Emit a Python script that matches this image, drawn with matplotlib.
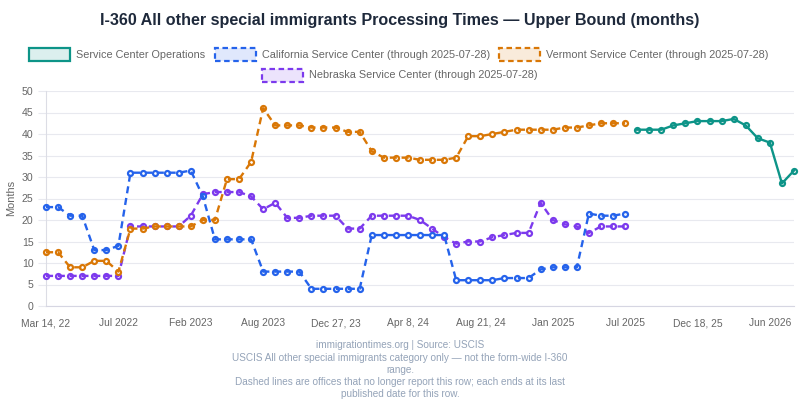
import matplotlib
matplotlib.use('Agg')
import matplotlib.pyplot as plt
from matplotlib.patches import Rectangle
import numpy as np

plt.rcParams['font.family'] = ['Liberation Sans', 'DejaVu Sans']

# ---------------- data ----------------
tick_labels = ["Mar 14, 22", "Jul 2022", "Feb 2023", "Aug 2023", "Dec 27, 23",
               "Apr 8, 24", "Aug 21, 24", "Jan 2025", "Jul 2025", "Dec 18, 25",
               "Jun 2026"]
tick_every = 6

california = [23, 23, 21, 21, 13, 13, 14, 31, 31, 31, 31, 31, 31.5, 25.5,
              15.5, 15.5, 15.5, 15.5, 8, 8, 8, 8, 4, 4, 4, 4, 4,
              16.5, 16.5, 16.5, 16.5, 16.5, 16.5, 16.5, 6, 6, 6, 6,
              6.5, 6.5, 6.5, 8.5, 9, 9, 9, 21.5, 21, 21, 21.5]
vermont = [12.5, 12.5, 9, 9, 10.5, 10.5, 8, 18, 18, 18.5, 18.5, 18.5, 18.5,
           20, 20, 29.5, 29.5, 33.5, 46, 42, 42, 42, 41.5, 41.5, 41.5,
           40.5, 40.5, 36, 34.5, 34.5, 34.5, 34, 34, 34, 34.5, 39.5, 39.5,
           40, 40.5, 41, 41, 41, 41, 41.5, 41.5, 42, 42.5, 42.5, 42.5]
nebraska = [7, 7, 7, 7, 7, 7, 7, 18.5, 18.5, 18.5, 18.5, 18.5, 21, 26,
            26.5, 26.5, 26.5, 25.5, 22.5, 24, 20.5, 20.5, 21, 21, 21, 18, 18,
            21, 21, 21, 21, 20, 18, 16, 14.5, 15, 15, 16, 16.5, 17, 17, 24,
            20, 19, 18.5, 17, 18.5, 18.5, 18.5]
service_center = [41, 41, 41, 42, 42.5, 43, 43, 43, 43.5, 42, 39, 38, 28.5, 31.5]

series_names = ["Service Center Operations",
                "California Service Center (through 2025-07-28)",
                "Vermont Service Center (through 2025-07-28)",
                "Nebraska Service Center (through 2025-07-28)"]

TEAL = '#0d9488'
BLUE = '#2563eb'
ORANGE = '#d97706'
PURPLE = '#7c3aed'

n_total = len(california) + len(service_center)

W, H = 800, 400
fig = plt.figure(figsize=(8, 4), dpi=100)
ax = fig.add_axes([46 / W, 1 - 306 / H, (794 - 46) / W, 215 / H])


def plot_series(vals, start, color, dashed, z):
    x = np.arange(start, start + len(vals))
    ax.plot(x, vals, linestyle='none', marker='o', ms=3.6, mew=1.6,
            mfc='white', mec=color, zorder=z, clip_on=False)
    ax.plot(x, vals, color=color, lw=1.7,
            linestyle=(0, (3, 2)) if dashed else '-',
            zorder=z + 0.05, clip_on=False)


plot_series(nebraska, 0, PURPLE, True, 3.0)
plot_series(vermont, 0, ORANGE, True, 3.2)
plot_series(california, 0, BLUE, True, 3.4)
plot_series(service_center, len(california), TEAL, False, 3.6)

ax.set_xlim(0, n_total - 1)
ax.set_ylim(0, 50)
ax.set_yticks(np.arange(0, 51, 5))
ax.set_xticks(np.arange(0, n_total, tick_every)[:len(tick_labels)])
ax.set_xticklabels(tick_labels)

grid_c = '#e8e9ef'
ax.grid(axis='y', color=grid_c, lw=0.8)
ax.grid(axis='x', visible=False)
ax.set_axisbelow(True)
for s in ['top', 'right']:
    ax.spines[s].set_visible(False)
ax.spines['left'].set_color('#dcdde5')
ax.spines['bottom'].set_color('#d6d6e2')
ax.spines['left'].set_linewidth(0.8)
ax.spines['bottom'].set_linewidth(0.8)
ax.tick_params(axis='y', length=6, color=grid_c, width=0.8,
               labelsize=7.6, labelcolor='#666666', pad=3)
ax.tick_params(axis='x', length=0, labelsize=7.4, labelcolor='#666666', pad=9)

# title
fig.text(0.5, 1 - 20 / H,
         "I-360 All other special immigrants Processing Times \u2014 Upper Bound (months)",
         ha='center', va='center', fontsize=11.6, fontweight='bold', color='#1e293b')

# y label
fig.text(11 / W, 1 - 198 / H, "Months", rotation=90, ha='center', va='center',
         fontsize=7.9, color='#666666')

# legend (manual, two centered rows)
legend_items = [
    (series_names[0], TEAL, False, 29, 54.5),
    (series_names[1], BLUE, True, 215, 54.5),
    (series_names[2], ORANGE, True, 499, 54.5),
    (series_names[3], PURPLE, True, 262, 75.5),
]
for name, color, dashed, x0, yc in legend_items:
    fill = Rectangle((x0 / W, 1 - (yc + 6) / H), 41 / W, 12 / H,
                     transform=fig.transFigure, facecolor=color, alpha=0.14,
                     edgecolor='none')
    fig.patches.append(fill)
    edge = Rectangle((x0 / W, 1 - (yc + 6) / H), 41 / W, 12 / H,
                     transform=fig.transFigure, facecolor='none',
                     edgecolor=color, lw=1.6,
                     linestyle=(0, (2.5, 1.6)) if dashed else '-')
    fig.patches.append(edge)
    fig.text((x0 + 47) / W, 1 - yc / H, name, ha='left', va='center',
             fontsize=7.85, color='#666666')

# footer
footer_lines = [
    "immigrationtimes.org | Source: USCIS",
    "USCIS All other special immigrants category only \u2014 not the form-wide I-360",
    "range.",
    "Dashed lines are offices that no longer report this row; each ends at its last",
    "published date for this row.",
]
for i, line in enumerate(footer_lines):
    fig.text(0.5, 1 - (345.5 + i * 12.2) / H, line, ha='center', va='center',
             fontsize=7.2, color='#94a3b8')

fig.savefig('out.png', dpi=100)
